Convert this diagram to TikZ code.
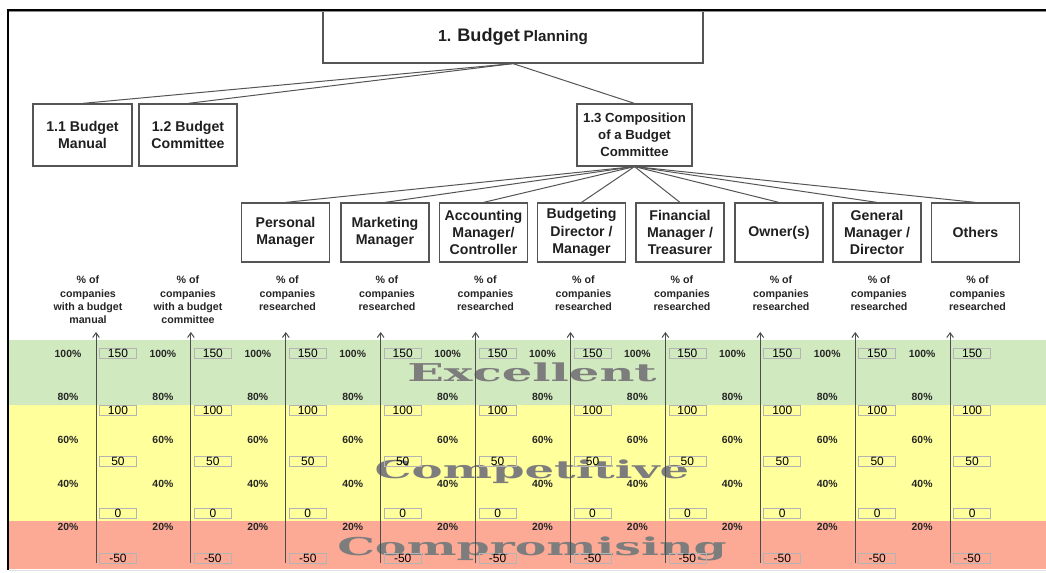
\documentclass[tikz,border=0pt]{standalone}
\usepackage{fontspec}
\setmainfont{Liberation Sans}
\newfontfamily\wmfont{DejaVu Serif}
\usetikzlibrary{arrows.meta}
\definecolor{bandgreen}{RGB}{208,233,190}
\definecolor{bandyellow}{RGB}{255,255,155}
\definecolor{bandred}{RGB}{252,170,150}
\definecolor{wmgray}{RGB}{125,125,125}
\definecolor{boxline}{RGB}{85,85,85}
\definecolor{vline}{RGB}{180,180,180}
\begin{document}
\begin{tikzpicture}[x=0.75pt,y=-0.75pt,
  box/.style={draw=boxline, line width=0.9pt, fill=white, align=center,
    font=\bfseries\fontsize{10.6}{13}\selectfont, text=black!88, inner sep=0pt},
  link/.style={draw=boxline, line width=0.75pt},
  sublabel/.style={align=center, anchor=north, inner sep=0pt, text=black!85,
    font=\bfseries\fontsize{8}{10}\selectfont},
  pct/.style={inner sep=0pt, text=black!85, font=\bfseries\fontsize{7.8}{9}\selectfont},
  valbox/.style={draw=vline, line width=0.6pt, minimum width=27.75pt, minimum height=7.5pt,
    inner sep=0pt, font=\fontsize{9}{9}\selectfont, text=black},
  axisline/.style={draw=black!70, line width=0.75pt, -{Straight Barb[length=3.5pt,width=5pt]}},
  wm/.style={anchor=base, inner sep=0pt, text=wmgray}
]
\useasboundingbox (0,0) rectangle (1046,573);
\fill[white] (0,0) rectangle (1046,573);

% bands
\fill[bandgreen] (9,340) rectangle (1046,405);
\fill[bandyellow] (9,405) rectangle (1046,521);
\fill[bandred] (9,521) rectangle (1046,569);
\draw[black!12, line width=0.75pt] (9,570) -- (1046,570);

% watermark words
\node[wm] (wmE) at (532,382) {\resizebox{187pt}{14pt}{\wmfont\bfseries Excellent}};
\node[wm] (wmC) at (532,479) {\resizebox{236pt}{14pt}{\wmfont\bfseries Competitive}};
\node[wm] (wmR) at (532,555) {\resizebox{292pt}{14pt}{\wmfont\bfseries Compromising}};

% hierarchy boxes
\node[box, minimum width=285pt, minimum height=39.75pt] (top) at (513,36.5)
  {{\fontsize{12}{14}\selectfont 1. }{\fontsize{13.6}{16}\selectfont Budget} {\fontsize{11.4}{14}\selectfont Planning}};
\node[box, minimum width=74.25pt, minimum height=46.5pt] (b11) at (82.5,135) {1.1 Budget\\Manual};
\node[box, minimum width=73.5pt, minimum height=46.5pt] (b12) at (188,135) {1.2 Budget\\Committee};
\node[box, minimum width=86.25pt, minimum height=46.5pt, font=\bfseries\fontsize{9.9}{12.8}\selectfont] (b13) at (634.5,135)
  {1.3 Composition\\of a Budget\\Committee};

\draw[link] (top.south) -- (b11.north);
\draw[link] (top.south) -- (b12.north);
\draw[link] (top.south) -- (b13.north);

\foreach \n/\x/\t in {r1/285.5/{Personal\\Manager},
                      r2/385/{Marketing\\Manager},
                      r3/483.5/{Accounting\\Manager/\\Controller},
                      r4/581.5/{Budgeting\\Director /\\Manager},
                      r5/680/{Financial\\Manager /\\Treasurer},
                      r6/779/{Owner(s)},
                      r7/877/{General\\Manager /\\Director},
                      r8/975.5/{Others}}{
  \node[box, minimum width=66pt, minimum height=44.25pt] (\n) at (\x,232.5) {\t};
  \draw[link] (b13.south) -- (\n.north);
  \node[sublabel] (\n lab) at (\x+2,276) {\% of\\companies\\researched};
}
\node[sublabel] (b11lab) at (88,276) {\% of\\companies\\with a budget\\manual};
\node[sublabel] (b12lab) at (188,276) {\% of\\companies\\with a budget\\committee};

% axes, percent labels and value boxes
\foreach \i in {0,...,9}{
  \pgfmathsetmacro\ax{96+94.9*\i}
  \coordinate (ab\i) at (\ax,563);
  \coordinate (at\i) at (\ax,332);
  \draw[axisline] (ab\i) -- (at\i);
  \foreach \p/\y in {100/354,80/397,60/440,40/484,20/527}{
    \node[pct] (p\i-\p) at (\ax-28,\y) {\p\%};
  }
  \foreach \v/\k/\y in {150/a/353,100/b/410,50/c/461,0/d/513,-50/e/558.5}{
    \node[valbox] (v\i\k) at (\ax+22,\y) {\v};
  }
}

% frame
\draw[black!45, line width=0.75pt] (9,12) -- (1046,12);
\draw[black, line width=1.5pt] (8,570) -- (8,10) -- (1046,10);
\end{tikzpicture}
\end{document}
